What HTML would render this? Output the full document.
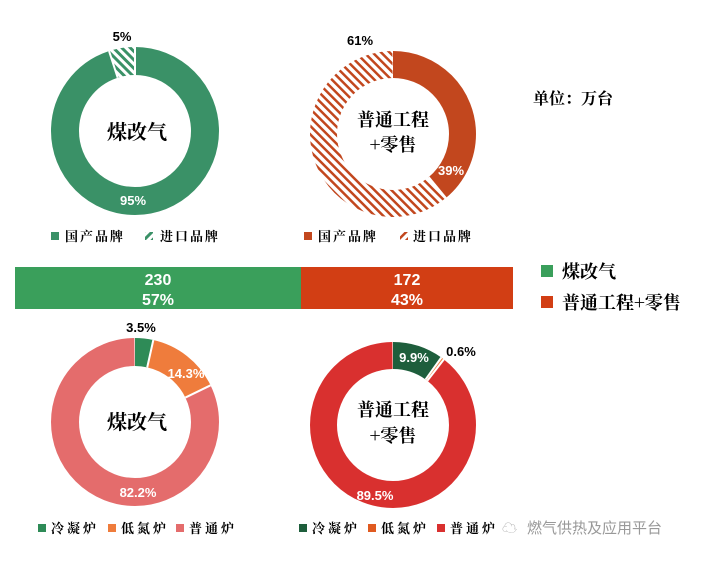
<!DOCTYPE html>
<html><head><meta charset="utf-8"><style>
body{margin:0;background:#fff;}
svg{display:block;font-family:"Liberation Sans","Noto Sans CJK SC",sans-serif;}
.cn{font-family:"Noto Serif CJK SC","Noto Sans CJK SC",serif;font-weight:bold;}
.lg{letter-spacing:2px;}
.lg3{letter-spacing:3px;}
.lab{font-weight:bold;font-size:13px;}
</style></head><body>
<svg width="726" height="565" viewBox="0 0 726 565" xmlns="http://www.w3.org/2000/svg">
<defs>
<pattern id="hg" patternUnits="userSpaceOnUse" width="6" height="6" patternTransform="rotate(45)">
<rect width="6" height="6" fill="#fff"/><rect width="3" height="6" fill="#3a9167"/></pattern>
<pattern id="hr" patternUnits="userSpaceOnUse" width="6" height="6" patternTransform="rotate(45)">
<rect width="6" height="6" fill="#fff"/><rect width="2.5" height="6" fill="#c2471e"/></pattern>
</defs>
<rect width="726" height="565" fill="#fff"/>

<g transform="translate(135,131) rotate(-90)">
<circle r="70" fill="none" stroke="#3a9167" stroke-width="28" pathLength="100" stroke-dasharray="95 100"/>
<circle r="70" fill="none" stroke="url(#hg)" stroke-width="28" pathLength="100" stroke-dasharray="5 100" stroke-dashoffset="-95"/>
<line x1="56" y1="0" x2="84" y2="0" stroke="#fff" stroke-width="2"/>
<line x1="56" y1="0" x2="84" y2="0" stroke="#fff" stroke-width="2" transform="rotate(-18)"/>
</g>
<text x="137" y="139" class="cn" font-size="20" text-anchor="middle">煤改气</text>
<text x="122" y="41" class="lab" text-anchor="middle">5%</text>
<text x="133" y="205" class="lab" fill="#fff" text-anchor="middle">95%</text>
<rect x="51" y="232" width="8" height="8" fill="#3a9167"/>
<text x="65" y="241" class="cn lg" font-size="13">国产品牌</text>
<rect x="145" y="232" width="8" height="8" fill="url(#hg)"/>
<text x="160" y="241" class="cn lg" font-size="13">进口品牌</text>

<g transform="translate(393,134) rotate(-90)">
<circle r="69.5" fill="none" stroke="#c2471e" stroke-width="27" pathLength="100" stroke-dasharray="39 100"/>
<circle r="69.5" fill="none" stroke="url(#hr)" stroke-width="27" pathLength="100" stroke-dasharray="61 100" stroke-dashoffset="-39"/>
<line x1="56" y1="0" x2="83" y2="0" stroke="#fff" stroke-width="2" transform="rotate(140.4)"/>
</g>
<text x="393" y="126" class="cn" font-size="18" text-anchor="middle">普通工程</text>
<text x="393" y="151" class="cn" font-size="18" text-anchor="middle">+零售</text>
<text x="360" y="45" class="lab" text-anchor="middle">61%</text>
<text x="451" y="175" class="lab" fill="#fff" text-anchor="middle">39%</text>
<rect x="304" y="232" width="8" height="8" fill="#c2471e"/>
<text x="318" y="241" class="cn lg" font-size="13">国产品牌</text>
<rect x="400" y="232" width="8" height="8" fill="url(#hr)"/>
<text x="413" y="241" class="cn lg" font-size="13">进口品牌</text>

<text x="533" y="104" class="cn" font-size="16">单位：万台</text>

<rect x="15" y="267" width="286" height="42" fill="#3a9f5b"/>
<rect x="301" y="267" width="212" height="42" fill="#d23e14"/>
<text x="158" y="285" fill="#fff" font-size="16" font-weight="bold" text-anchor="middle">230</text>
<text x="158" y="305" fill="#fff" font-size="16" font-weight="bold" text-anchor="middle">57%</text>
<text x="407" y="285" fill="#fff" font-size="16" font-weight="bold" text-anchor="middle">172</text>
<text x="407" y="305" fill="#fff" font-size="16" font-weight="bold" text-anchor="middle">43%</text>
<rect x="541" y="265" width="12" height="12" fill="#3a9f5b"/>
<text x="562" y="278" class="cn" font-size="18">煤改气</text>
<rect x="541" y="296" width="12" height="12" fill="#d23e14"/>
<text x="562" y="309" class="cn" font-size="18">普通工程+零售</text>

<g transform="translate(135,422) rotate(-90)">
<circle r="70" fill="none" stroke="#2e8b57" stroke-width="28" pathLength="100" stroke-dasharray="3.5 100"/>
<circle r="70" fill="none" stroke="#ef7c3c" stroke-width="28" pathLength="100" stroke-dasharray="14.3 100" stroke-dashoffset="-3.5"/>
<circle r="70" fill="none" stroke="#e46c6c" stroke-width="28" pathLength="100" stroke-dasharray="82.2 100" stroke-dashoffset="-17.8"/>
<line x1="56" y1="0" x2="84" y2="0" stroke="#fff" stroke-width="2" transform="rotate(12.6)"/>
<line x1="56" y1="0" x2="84" y2="0" stroke="#fff" stroke-width="2" transform="rotate(64.1)"/>
</g>
<text x="137" y="429" class="cn" font-size="20" text-anchor="middle">煤改气</text>
<text x="141" y="332" class="lab" text-anchor="middle">3.5%</text>
<text x="186" y="378" class="lab" fill="#fff" text-anchor="middle">14.3%</text>
<text x="138" y="497" class="lab" fill="#fff" text-anchor="middle">82.2%</text>
<rect x="38" y="524" width="8" height="8" fill="#2e8b57"/>
<text x="51" y="533" class="cn lg3" font-size="13">冷凝炉</text>
<rect x="108" y="524" width="8" height="8" fill="#ef7c3c"/>
<text x="121" y="533" class="cn lg3" font-size="13">低氮炉</text>
<rect x="176" y="524" width="8" height="8" fill="#e46c6c"/>
<text x="189" y="533" class="cn lg3" font-size="13">普通炉</text>

<g transform="translate(393,425) rotate(-90)">
<circle r="69.5" fill="none" stroke="#1e5e3c" stroke-width="27" pathLength="100" stroke-dasharray="9.9 100"/>
<circle r="69.5" fill="none" stroke="#ef7c3c" stroke-width="27" pathLength="100" stroke-dasharray="0.6 100" stroke-dashoffset="-9.9"/>
<circle r="69.5" fill="none" stroke="#d9302f" stroke-width="27" pathLength="100" stroke-dasharray="89.5 100" stroke-dashoffset="-10.5"/>
<line x1="56" y1="0" x2="83" y2="0" stroke="#fff" stroke-width="2" transform="rotate(35.6)"/>
<line x1="56" y1="0" x2="83" y2="0" stroke="#fff" stroke-width="2" transform="rotate(37.8)"/>
</g>
<text x="393" y="416" class="cn" font-size="18" text-anchor="middle">普通工程</text>
<text x="393" y="442" class="cn" font-size="18" text-anchor="middle">+零售</text>
<text x="414" y="362" class="lab" fill="#fff" text-anchor="middle">9.9%</text>
<text x="461" y="356" class="lab" text-anchor="middle">0.6%</text>
<text x="375" y="500" class="lab" fill="#fff" text-anchor="middle">89.5%</text>
<rect x="299" y="524" width="8" height="8" fill="#1e5e3c"/>
<text x="312" y="533" class="cn lg3" font-size="13">冷凝炉</text>
<rect x="368" y="524" width="8" height="8" fill="#e05a20"/>
<text x="381" y="533" class="cn lg3" font-size="13">低氮炉</text>
<rect x="437" y="524" width="8" height="8" fill="#d9302f"/>
<text x="450" y="533" class="cn lg3" font-size="13">普通炉</text>

<text x="502" y="533" font-size="15" fill="#aaa">☁</text>
<text x="527" y="533" font-size="15" fill="#999" font-family="Noto Sans CJK SC,sans-serif">燃气供热及应用平台</text>
</svg>
</body></html>
